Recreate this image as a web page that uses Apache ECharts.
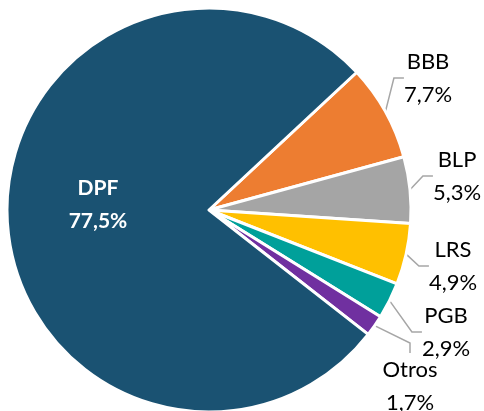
<!DOCTYPE html>
<html>
<head>
<meta charset="utf-8">
<script src="https://cdn.jsdelivr.net/npm/echarts@6/dist/echarts.min.js"></script>
<style>
    html, body { margin: 0; padding: 0; background: #ffffff; }
    #main { width: 484px; height: 411px; }
</style>
</head>
<body>
<div id="main"></div>
<script>
// datos del gráfico
const categorias = ['BBB', 'BLP', 'LRS', 'PGB', 'Otros', 'DPF'];
const valores = [7.7, 5.3, 4.9, 2.9, 1.7, 77.5];
const colores = ['#ED7D31', '#A5A5A5', '#FFC000', '#00A09A', '#7030A0', '#1A5272'];

// posición del texto de cada etiqueta (centro)
const posEtiquetas = [
    [428, 78],
    [457, 176],
    [453, 266],
    [446, 332],
    [410, 386],
    [98, 205]
];

var myChart = echarts.init(document.getElementById('main'));

function fmt(v) {
    return v.toFixed(1).replace('.', ',') + '%';
}

let option = {
    animation: false,
    series: [{
        type: 'pie',
        center: [209, 210],
        radius: [0, 202],
        startAngle: 43,
        clockwise: true,
        avoidLabelOverlap: false,
        itemStyle: {
            borderColor: '#ffffff',
            borderWidth: 3
        },
        label: {
            show: true,
            position: 'outside',
            fontFamily: 'Lato',
            fontSize: 22,
            lineHeight: 33,
            color: '#000000',
            align: 'center',
            formatter: function(p) {
                return p.name + '\n' + fmt(p.value);
            }
        },
        labelLine: {
            show: true,
            length: 10,
            length2: 10,
            lineStyle: {
                color: '#A6A6A6',
                width: 1.5
            }
        },
        labelLayout: function(params) {
            let pos = posEtiquetas[params.dataIndex];
            return {
                x: pos[0],
                y: pos[1],
                align: 'center',
                verticalAlign: 'middle'
            };
        },
        data: categorias.map(function(name, i) {
            let item = {
                name: name,
                value: valores[i],
                itemStyle: { color: colores[i] }
            };
            // DPF va dentro, en blanco y negrita
            if (name === 'DPF') {
                item.label = {
                    position: 'inside',
                    color: '#ffffff',
                    fontWeight: 'bold',
                    fontSize: 21,
                    lineHeight: 33
                };
                item.labelLine = { show: false };
            }
            return item;
        })
    }]
};

myChart.setOption(option);
</script>
</body>
</html>
